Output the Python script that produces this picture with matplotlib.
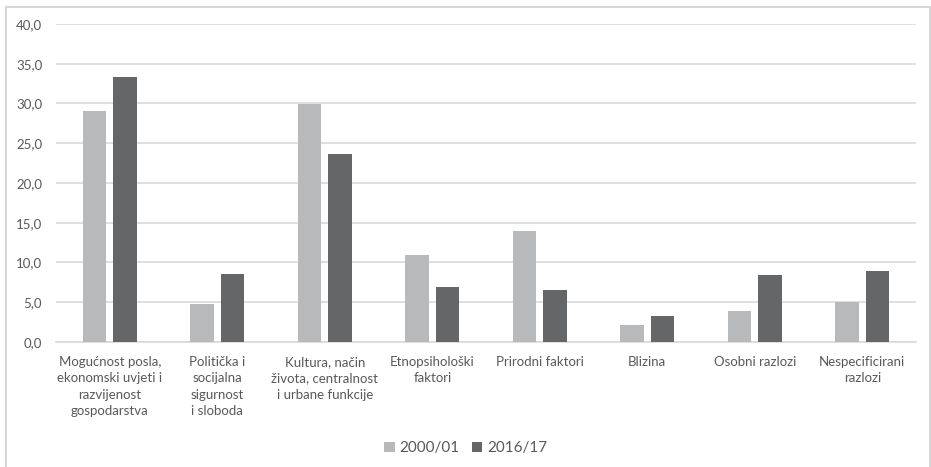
import numpy as np
import matplotlib
matplotlib.use("Agg")
import matplotlib.pyplot as plt
from matplotlib.patches import Rectangle
from matplotlib.ticker import FuncFormatter


# Data

categories = [
    "Mogućnost posla,\nekonomski uvjeti i\nrazvijenost\ngospodarstva",
    "Politička i\nsocijalna\nsigurnost\ni sloboda",
    "Kultura, način\nživota, centralnost\ni urbane funkcije",
    "Etnopsihološki\nfaktori",
    "Prirodni faktori",
    "Blizina",
    "Osobni razlozi",
    "Nespecificirani\nrazlozi",
]
values_2000 = [29.0, 4.8, 29.9, 11.0, 13.9, 2.1, 3.9, 5.0]
values_2016 = [33.3, 8.5, 23.6, 6.9, 6.5, 3.3, 8.4, 8.9]
series_labels = ["2000/01", "2016/17"]

LIGHT = "#b8b9bb"
DARK = "#656668"
TEXT = "#595959"

plt.rcParams["font.family"] = ["Lato", "DejaVu Sans"]

fig = plt.figure(figsize=(9.31, 4.67), dpi=100)
ax = fig.add_axes([0.0602, 0.2677, 0.9238, 0.6809])

x = np.arange(len(categories))
w = 0.22
gap = 0.065
ax.bar(x - (w + gap) / 2, values_2000, w, color=LIGHT, label=series_labels[0], zorder=3)
ax.bar(x + (w + gap) / 2, values_2016, w, color=DARK, label=series_labels[1], zorder=3)

ax.set_xlim(-0.5, len(categories) - 0.5)
ax.set_ylim(0, 40)
ax.set_yticks(np.arange(0, 41, 5))
ax.yaxis.set_major_formatter(FuncFormatter(lambda v, p: f"{v:.1f}".replace(".", ",")))
ax.grid(axis="y", color="#d9d9d9", linewidth=1.2, zorder=0)

for s in ["top", "right", "left"]:
    ax.spines[s].set_visible(False)
ax.spines["bottom"].set_color("#d9d9d9")
ax.spines["bottom"].set_linewidth(1.2)

ax.set_xticks(x)
ax.set_xticklabels(categories, fontsize=9.5, color=TEXT, linespacing=1.45, va="top")
ax.tick_params(axis="x", length=0, pad=10)
ax.tick_params(axis="y", length=0, labelsize=9.5, labelcolor=TEXT, pad=10)

leg = fig.legend(loc="center", bbox_to_anchor=(0.5, 0.04), ncol=2, frameon=False,
                 fontsize=11, handlelength=0.7, handleheight=0.7, handletextpad=0.3,
                 columnspacing=0.8)
for t in leg.get_texts():
    t.set_color(TEXT)

# chart frame
fig.patches.append(Rectangle((6 / 931, -0.05), 924 / 931, 1 - 7 / 467 + 0.05,
                             transform=fig.transFigure, fill=False,
                             edgecolor="#d0d0d0", linewidth=1.2))

fig.savefig("out.png", dpi=100)
